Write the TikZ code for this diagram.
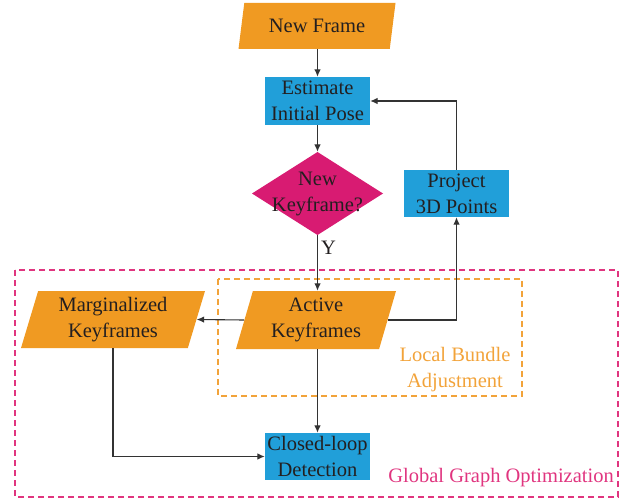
\documentclass[tikz,border=0pt]{standalone}
\usepackage{fontspec}
\setmainfont{Liberation Serif}
\usetikzlibrary{shapes.geometric,arrows.meta}
\definecolor{cOrange}{HTML}{F09A22}
\definecolor{cBlue}{HTML}{219FD9}
\definecolor{cMag}{HTML}{D81B72}
\definecolor{cPink}{HTML}{E0357F}
\definecolor{cDashO}{HTML}{F2A33A}
\definecolor{cText}{HTML}{231F20}
\definecolor{cLine}{HTML}{333333}
\tikzset{
  lbl/.style={font=\fontsize{20.5}{26}\selectfont, text=cText, align=center},
  para/.style={lbl, shape=trapezium, fill=cOrange, trapezium stretches body=true, inner sep=0pt},
  box/.style={lbl, rectangle, fill=cBlue, inner sep=0pt},
  conn/.style={draw=cLine, line width=1.1pt, -{Latex[length=7.5pt,width=6.5pt]}},
}
\begin{document}
\begin{tikzpicture}[x=1pt,y=-1pt]
\useasboundingbox (0,0) rectangle (631,500);
% group frames
\draw[cPink, line width=1.1pt, dash pattern=on 6pt off 4pt] (15,270) rectangle (618,497);
\draw[cDashO, line width=1.1pt, dash pattern=on 6pt off 4pt] (218,279) rectangle (522,396);
\node[font=\fontsize{20.5}{26}\selectfont, text=cPink, anchor=east, inner sep=0pt] (ggo) at (614,478) {Global Graph Optimization};
\node[font=\fontsize{20.5}{26}\selectfont, text=cDashO, align=center] (lba) at (455,370) {Local Bundle\\Adjustment};
% diamond background
\fill[cMag] (317.5,152) -- (383,193.5) -- (317.5,235) -- (252,193.5) -- cycle;
% nodes
\node[para, trapezium left angle=67, trapezium right angle=113, minimum width=157pt, minimum height=46pt] (nf) at (317,26) {New Frame};
\node[box, minimum width=105pt, minimum height=48pt] (est) at (317.5,101) {Estimate\\Initial Pose};
\node[lbl, rectangle, inner sep=0pt, minimum width=131pt, minimum height=83pt] (kf) at (317.5,193.5) {New\\Keyframe?};
\node[box, minimum width=105pt, minimum height=47pt] (proj) at (456.5,193.5) {Project\\3D Points};
\node[para, trapezium left angle=69, trapezium right angle=111, minimum width=160pt, minimum height=58pt] (act) at (316,320) {Active\\Keyframes};
\node[para, trapezium left angle=69, trapezium right angle=111, minimum width=184pt, minimum height=57pt] (marg) at (113,319.5) {Marginalized\\Keyframes};
\node[box, minimum width=105pt, minimum height=47pt] (cl) at (317.5,456.5) {Closed-loop\\Detection};
% connectors
\draw[conn] (nf.south -| est.north) -- (est.north);
\draw[conn] (est.south) -- (kf.north);
\draw[conn] (kf.south) -- node[lbl, right, pos=0.22, inner sep=3pt] (y) {Y} (act.north -| kf.south);
\draw[conn] (act.east) -| (proj.south);
\draw[conn] (proj.north) |- (est.east);
\draw[conn] (act.west) -- (marg.east);
\draw[conn] (act.south -| cl.north) -- (cl.north);
\draw[conn] (marg.south) |- (cl.west);
\end{tikzpicture}
\end{document}
